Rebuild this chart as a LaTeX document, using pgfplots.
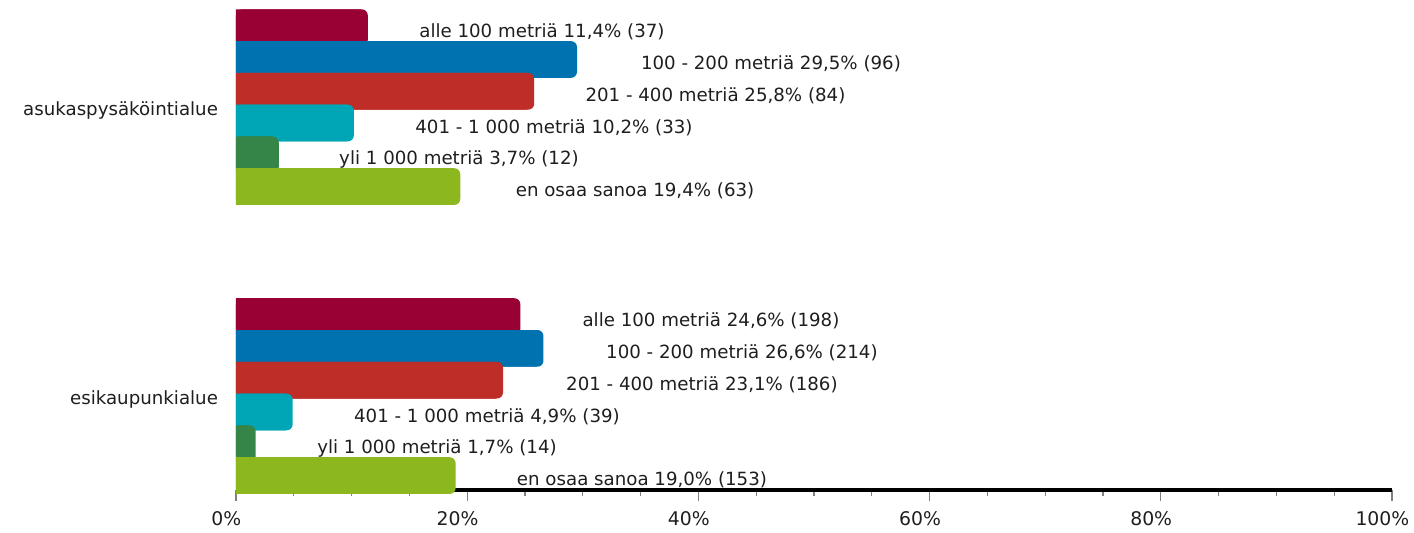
\documentclass[border=0pt]{standalone}
\usepackage{pgfplots}
\pgfplotsset{compat=1.18}
\usepackage{fontspec}
\setmainfont{DejaVu Sans}
\definecolor{cA}{RGB}{153,0,51}
\definecolor{cB}{RGB}{0,114,175}
\definecolor{cC}{RGB}{190,45,39}
\definecolor{cD}{RGB}{0,166,182}
\definecolor{cE}{RGB}{53,133,73}
\definecolor{cF}{RGB}{140,183,31}
\definecolor{txt}{RGB}{30,30,30}
\begin{document}
\begin{tikzpicture}
\begin{axis}[
  scale only axis,
  width=578pt, height=245pt,
  xmin=0, xmax=100, ymin=0, ymax=490,
  axis x line*=bottom, axis y line*=left,
  x axis line style={line width=2pt, -, black},
  y axis line style={draw=none},
  xtick={0,20,40,60,80,100},
  xticklabels={0\%,20\%,40\%,60\%,80\%,100\%},
  minor x tick num=3,
  tick align=outside,
  major x tick style={gray, line width=0.6pt},
  minor x tick style={gray, line width=0.6pt},
  major tick length=5.5pt, minor tick length=3pt,
  xticklabel style={xshift=-4.8pt, yshift=-1.5pt, font=\fontsize{9.4}{11}\selectfont},
  ytick={382.8,94},
  yticklabels={asukaspysäköintialue, esikaupunkialue},
  major y tick style={draw=none},
  yticklabel style={xshift=0pt, yshift=-1.6pt},
  font=\fontsize{9.1}{11}\selectfont,
  tick label style={text=txt},
  axis on top=false,
  clip=false,
  bar width=18.35pt,
]
% series: alle 100
\addplot[xbar, bar shift=0pt, fill=cA, draw=none, rounded corners=3pt] coordinates {(11.4,462.3) (24.6,173.4)};
\addplot[xbar, bar shift=0pt, fill=cA, draw=none, x filter/.expression={x-0.6}] coordinates {(11.4,462.3) (24.6,173.4)};
% 100 - 200
\addplot[xbar, bar shift=0pt, fill=cB, draw=none, rounded corners=3pt] coordinates {(29.5,430.5) (26.6,141.6)};
\addplot[xbar, bar shift=0pt, fill=cB, draw=none, x filter/.expression={x-0.6}] coordinates {(29.5,430.5) (26.6,141.6)};
% 201 - 400
\addplot[xbar, bar shift=0pt, fill=cC, draw=none, rounded corners=3pt] coordinates {(25.8,398.7) (23.1,109.8)};
\addplot[xbar, bar shift=0pt, fill=cC, draw=none, x filter/.expression={x-0.6}] coordinates {(25.8,398.7) (23.1,109.8)};
% 401 - 1000
\addplot[xbar, bar shift=0pt, fill=cD, draw=none, rounded corners=3pt] coordinates {(10.2,367.0) (4.9,78.0)};
\addplot[xbar, bar shift=0pt, fill=cD, draw=none, x filter/.expression={x-0.6}] coordinates {(10.2,367.0) (4.9,78.0)};
% yli 1000
\addplot[xbar, bar shift=0pt, fill=cE, draw=none, rounded corners=3pt] coordinates {(3.7,335.2) (1.7,46.2)};
\addplot[xbar, bar shift=0pt, fill=cE, draw=none, x filter/.expression={x-0.6}] coordinates {(3.7,335.2) (1.7,46.2)};
% en osaa sanoa
\addplot[xbar, bar shift=0pt, fill=cF, draw=none, rounded corners=3pt] coordinates {(19.4,303.4) (19.0,14.4)};
\addplot[xbar, bar shift=0pt, fill=cF, draw=none, x filter/.expression={x-0.6}] coordinates {(19.4,303.4) (19.0,14.4)};
% value labels
\addplot[draw=none, mark=none, nodes near coords, point meta=explicit symbolic,
  every node near coord/.append style={anchor=mid, yshift=-2.3pt, text=txt, inner sep=0pt}]
  coordinates {
  (26.47,462.3) [alle 100 metriä 11,4\% (37)]
  (46.28,430.5) [100 - 200 metriä 29,5\% (96)]
  (41.48,398.7) [201 - 400 metriä 25,8\% (84)]
  (27.51,367.0) [401 - 1 000 metriä 10,2\% (33)]
  (19.29,335.2) [yli 1 000 metriä 3,7\% (12)]
  (34.52,303.4) [en osaa sanoa 19,4\% (63)]
  (41.09,173.4) [alle 100 metriä 24,6\% (198)]
  (43.77,141.6) [100 - 200 metriä 26,6\% (214)]
  (40.31,109.8) [201 - 400 metriä 23,1\% (186)]
  (21.71,78.0) [401 - 1 000 metriä 4,9\% (39)]
  (17.39,46.2) [yli 1 000 metriä 1,7\% (14)]
  (35.12,14.4) [en osaa sanoa 19,0\% (153)]
  };
\end{axis}
\pgfresetboundingbox
\path[use as bounding box] (-118pt,-21.5pt) rectangle (589pt,245pt);
\end{tikzpicture}
\end{document}
